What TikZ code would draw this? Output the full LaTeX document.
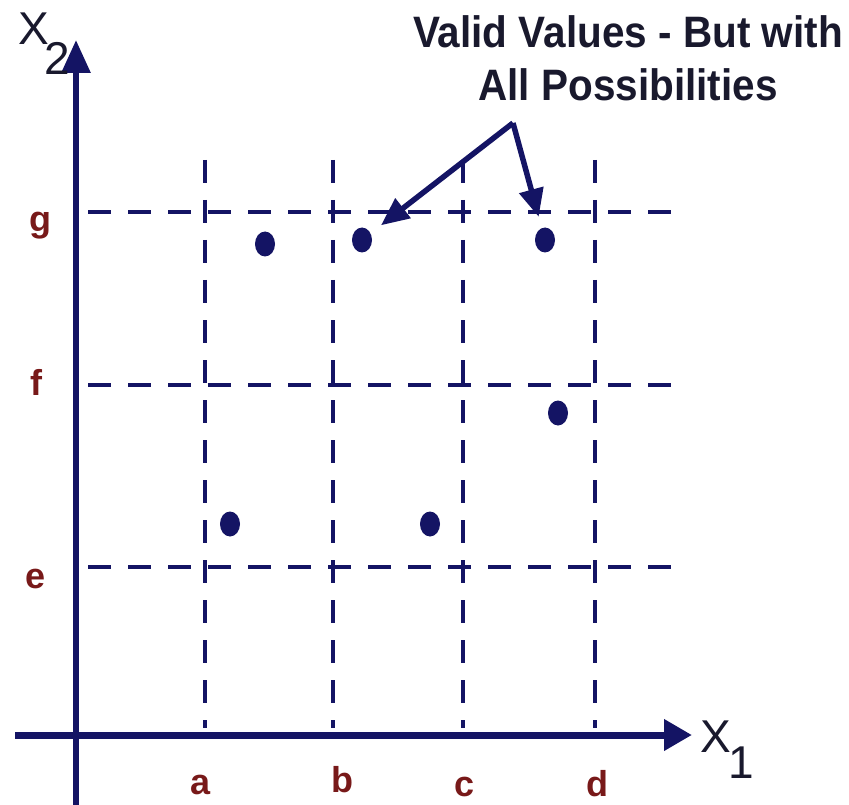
\documentclass[tikz,border=0pt]{standalone}
\usepackage{fontspec}
\setmainfont{Liberation Sans}
\usetikzlibrary{arrows.meta,shapes.geometric}
\definecolor{navy}{RGB}{20,20,100}
\definecolor{lblred}{RGB}{120,25,25}
\definecolor{ink}{RGB}{25,25,45}
\begin{document}
\begin{tikzpicture}[x=1pt,y=-1pt,
  axis/.style={draw=navy,line width=7pt},
  grid/.style={draw=navy,line width=4.5pt,dash pattern=on 23pt off 17pt},
  dot/.style={ellipse,fill=navy,minimum width=20pt,minimum height=25pt,inner sep=0pt},
  lbl/.style={text=lblred,font=\bfseries\fontsize{36}{36}\selectfont,anchor=base,inner sep=0pt},
  axlbl/.style={text=ink,font=\fontsize{46}{46}\selectfont,inner sep=0pt},
  title/.style={text=ink,font=\bfseries\fontsize{44}{44}\selectfont,inner sep=0pt,anchor=base},
  pointer/.style={draw=navy,line width=5.5pt,-{Triangle[length=28pt,width=24pt]},shorten >=24pt}]
\useasboundingbox (0,0) rectangle (849,805);
% grid
\foreach \x in {205,333,463,595} \draw[grid] (\x,160) -- (\x,728);
\foreach \y in {212,385,567} \draw[grid] (88,\y) -- (680,\y);
% axes
\coordinate (ybot) at (76,805);
\coordinate (ytop) at (76,40);
\coordinate (xl) at (15,735);
\coordinate (xr) at (692,735);
\draw[axis,line width=6pt,-{Triangle[length=33pt,width=28pt]}] (ybot) -- (ytop);
\draw[axis,-{Triangle[length=28pt,width=30pt]}] (xl) -- (xr);
% axis labels
\node[axlbl,anchor=base] (x2) at (34,45) {X};
\node[axlbl,anchor=base] (x2s) at (57,75) {2};
\node[axlbl,anchor=base] (x1) at (716,752) {X};
\node[axlbl,anchor=base] (x1s) at (741,778) {1};
% tick labels
\node[lbl] (la) at (201,794) {a};
\node[lbl] (lb) at (342,792) {b};
\node[lbl] (lc) at (465,796) {c};
\node[lbl] (ld) at (597,796) {d};
\node[lbl] (lg) at (40,232) {g};
\node[lbl] (lf) at (36,395) {f};
\node[lbl] (le) at (36,588) {e};
% dots
\node[dot] (p1) at (265,244) {};
\node[dot] (p2) at (362,240) {};
\node[dot] (p3) at (545,240) {};
\node[dot] (p4) at (558,413) {};
\node[dot] (p5) at (230,524) {};
\node[dot] (p6) at (430,524) {};
% title
\node[title] (t1) at (628,48) {\scalebox{0.92}[1]{Valid Values - But with}};
\node[title] (t2) at (628,101) {\scalebox{0.92}[1]{All Possibilities}};
% pointers
\coordinate (apex) at (513,123);
\draw[pointer] (apex) -- (p2.center);
\draw[pointer] (apex) -- (p3.center);
\end{tikzpicture}
\end{document}
